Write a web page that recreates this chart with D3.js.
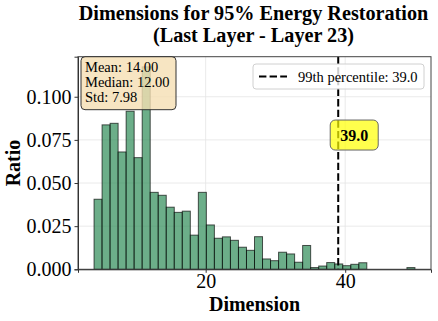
<!DOCTYPE html>
<html><head><meta charset="utf-8">
<script src="https://cdn.jsdelivr.net/npm/d3@7"></script>
<style>body{margin:0;background:#fff}svg{display:block}text{font-family:"Liberation Serif","Times New Roman",serif}</style>
</head><body><svg id="c" width="438" height="321"></svg>
<script>
const binEdges = [4.00,5.15,6.30,7.45,8.60,9.75,10.90,12.05,13.20,14.35,15.50,16.65,17.80,18.95,20.10,21.25,22.40,23.55,24.70,25.85,27.00,28.15,29.30,30.45,31.60,32.75,33.90,35.05,36.20,37.35,38.50,39.65,40.80,41.95,43.10,44.25,45.40,46.55,47.70,48.85,50.00];
const ratios = [0.0406,0.0837,0.0846,0.0680,0.0916,0.0647,0.1173,0.0446,0.0429,0.0360,0.0330,0.0337,0.0198,0.0446,0.0257,0.0180,0.0188,0.0168,0.0128,0.0110,0.0189,0.0060,0.0050,0.0099,0.0089,0.0041,0.0138,0.0010,0.0019,0.0039,0.0031,0.0021,0.0029,0.0038,0,0,0,0,0,0.0010];
const xTicks = [20, 40];
const yTicks = [0, 0.025, 0.05, 0.075, 0.1];
const yTickLabels = ["0.000","0.025","0.050","0.075","0.100"];
const percentile99 = 39.0;
const statsLines = ["Mean: 14.00","Median: 12.00","Std: 7.98"];
const titleLines = ["Dimensions for 95% Energy Restoration","(Last Layer - Layer 23)"];
const legendLabel = "99th percentile: 39.0";
const xDomain = [1.7, 52.3];
const yDomain = [0, 0.1232];

const L=78, R=431, T=56.7, B=269.3;
const svg = d3.select("#c");
const x = d3.scaleLinear().domain(xDomain).range([L,R]);
const y = d3.scaleLinear().domain(yDomain).range([B,T]);

// grid
const g = svg.append("g");
g.selectAll("line.gy").data(yTicks).join("line").attr("x1",L).attr("x2",R)
 .attr("y1",d=>y(d)).attr("y2",d=>y(d)).attr("stroke","#e4e4e4").attr("stroke-width",0.8);
g.selectAll("line.gx").data(xTicks).join("line").attr("y1",T).attr("y2",B)
 .attr("x1",d=>x(d)).attr("x2",d=>x(d)).attr("stroke","#e4e4e4").attr("stroke-width",0.8);

// bars
const bins = ratios.map((v,i)=>({x0:binEdges[i],x1:binEdges[i+1],v}));
svg.append("g").selectAll("rect").data(bins.filter(b=>b.v>0)).join("rect")
 .attr("x",d=>x(d.x0)).attr("width",d=>x(d.x1)-x(d.x0))
 .attr("y",d=>y(d.v)).attr("height",d=>y(0)-y(d.v))
 .attr("fill","#2e8b57").attr("fill-opacity",0.7)
 .attr("stroke","#000").attr("stroke-opacity",0.65).attr("stroke-width",1);

// percentile line
svg.append("line").attr("x1",x(percentile99)).attr("x2",x(percentile99)).attr("y1",T).attr("y2",B)
 .attr("stroke","#000").attr("stroke-width",2).attr("stroke-dasharray","7.4,3.2");

// axes frame
svg.append("rect").attr("x",L).attr("y",T).attr("width",R-L).attr("height",B-T)
 .attr("fill","none").attr("stroke","#444").attr("stroke-width",1);

const xAxis = svg.append("g").attr("transform",`translate(0,${B})`)
 .call(d3.axisBottom(x).tickValues(xTicks).tickSize(3.5).tickPadding(1.5).tickFormat(d3.format("d")));
const yAxis = svg.append("g").attr("transform",`translate(${L},0)`)
 .call(d3.axisLeft(y).tickValues(yTicks).tickSize(3.5).tickPadding(3).tickFormat((d,i)=>yTickLabels[i]));
[xAxis,yAxis].forEach(a=>{a.select(".domain").attr("stroke","#333");
 a.selectAll(".tick line").attr("stroke","#333");
 a.selectAll(".tick text").attr("fill","#000").style("font-size","20px").style("font-family","Liberation Serif");});

// axis labels
svg.append("text").attr("x",(L+R)/2).attr("y",311).attr("text-anchor","middle")
 .style("font-size","20px").style("font-weight","bold").text("Dimension");
svg.append("text").attr("transform",`translate(20,${(T+B)/2}) rotate(-90)`).attr("text-anchor","middle")
 .style("font-size","20px").style("font-weight","bold").text("Ratio");

// title
svg.append("g").selectAll("text").data(titleLines).join("text")
 .attr("x",253.5).attr("y",(d,i)=>20+i*22).attr("text-anchor","middle")
 .style("font-size","20.2px").style("font-weight","bold").text(d=>d);

// stats box
const sb = svg.append("g");
sb.append("rect").attr("x",L+3).attr("y",T).attr("width",95).attr("height",53).attr("rx",4)
 .attr("fill","#f5deb3").attr("fill-opacity",0.8).attr("stroke","#333").attr("stroke-width",1);
sb.selectAll("text").data(statsLines).join("text").attr("x",L+7).attr("y",(d,i)=>71.5+i*15)
 .style("font-size","14.5px").text(d=>d);

// legend
const lg = svg.append("g");
lg.append("rect").attr("x",253).attr("y",64).attr("width",171).attr("height",25).attr("rx",3)
 .attr("fill","#fff").attr("fill-opacity",0.8).attr("stroke","#d0d0d0").attr("stroke-width",1);
lg.append("line").attr("x1",259).attr("x2",287).attr("y1",76.5).attr("y2",76.5)
 .attr("stroke","#000").attr("stroke-width",2).attr("stroke-dasharray","7.4,3.2");
lg.append("text").attr("x",298).attr("y",81.5).style("font-size","14.5px").text(legendLabel);

// percentile label
const pl = svg.append("g");
pl.append("rect").attr("x",x(percentile99)-8).attr("y",y(0.0778)-15).attr("width",48).attr("height",30).attr("rx",5)
 .attr("fill","#ffff00").attr("fill-opacity",0.7).attr("stroke","#666").attr("stroke-width",1);
pl.append("text").attr("x",x(percentile99)+16).attr("y",y(0.0778)+5.5).attr("text-anchor","middle")
 .style("font-size","16px").style("font-weight","bold").text(percentile99.toFixed(1));
</script></body></html>
